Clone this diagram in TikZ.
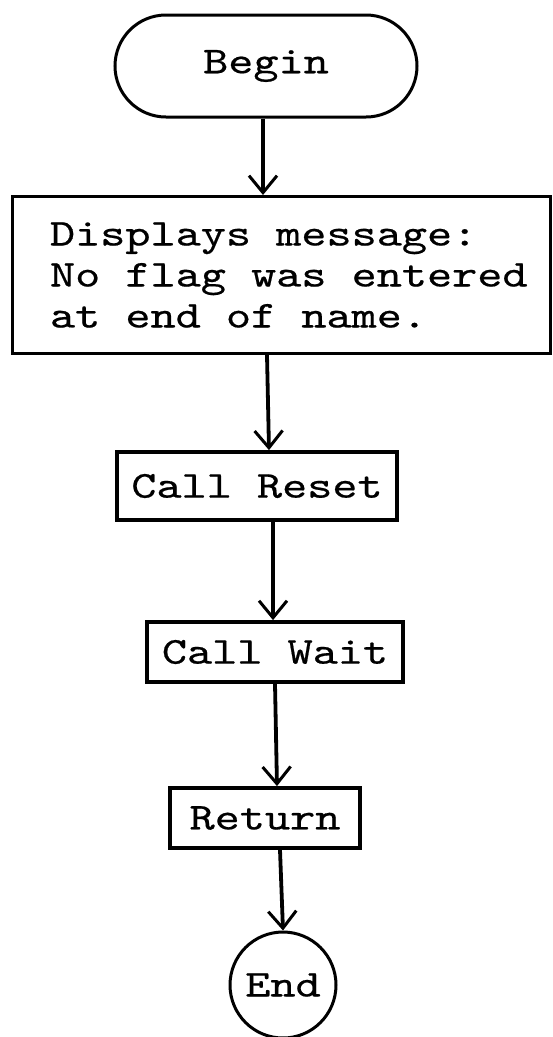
\documentclass[tikz,border=0pt]{standalone}
\usepackage{fontspec}
\newfontfamily\typew{lmmono10-regular}[Extension=.otf, FakeStretch=1.26, FakeBold=0.5]
\usetikzlibrary{arrows.meta,shapes.misc,shapes.geometric}

% one character cell of blank space in the monospaced font
\newcommand\blankcell{\phantom{x}}

\tikzset{
  chart/.style={font=\typew\fontsize{38}{41}\selectfont},
  terminal/.style={draw, line width=3pt, rounded rectangle, inner sep=0pt},
  procbox/.style={draw, line width=3.8pt, rectangle, inner sep=0pt},
  endcircle/.style={draw, line width=3pt, circle, inner sep=0pt, minimum size=106pt},
  flow/.style={line width=3.8pt, -{Straight Barb[length=17pt,width=28pt,line width=3pt]}}
}

\begin{document}
\begin{tikzpicture}[x=1pt,y=-1pt,chart]
\useasboundingbox (0,0) rectangle (552,1037);

% start terminal
\node[terminal, minimum width=302pt, minimum height=102pt] (begin) at (266,66) {Begin};

% message box
\node[procbox, line width=3pt, minimum width=538pt, minimum height=157pt,
      text width=462pt, inner xsep=38pt, align=left] (msg) at (281,275)
  {\mbox{Displays\blankcell message:}\\
   \mbox{No\blankcell flag\blankcell was\blankcell entered}\\
   \mbox{at\blankcell end\blankcell of\blankcell name.}};

% calls and return
\node[procbox, minimum width=280pt, minimum height=68pt] (reset) at (257,486) {Call\blankcell Reset};
\node[procbox, minimum width=256pt, minimum height=60pt] (wait) at (275,652) {Call\blankcell Wait};
\node[procbox, minimum width=190pt, minimum height=60pt] (ret) at (265,818) {Return};

% end terminal
\node[endcircle] (end) at (283,985) {End};

% connectors
\draw[flow] ([xshift=-3pt]begin.south) -- ([xshift=-18pt]msg.north);
\draw[flow] ([xshift=-14pt]msg.south) -- ([xshift=12pt]reset.north);
\draw[flow] ([xshift=16pt]reset.south) -- ([xshift=-2pt]wait.north);
\draw[flow] (wait.south) -- ([xshift=12pt]ret.north);
\draw[flow] ([xshift=15pt]ret.south) -- (end.north);
\end{tikzpicture}
\end{document}
